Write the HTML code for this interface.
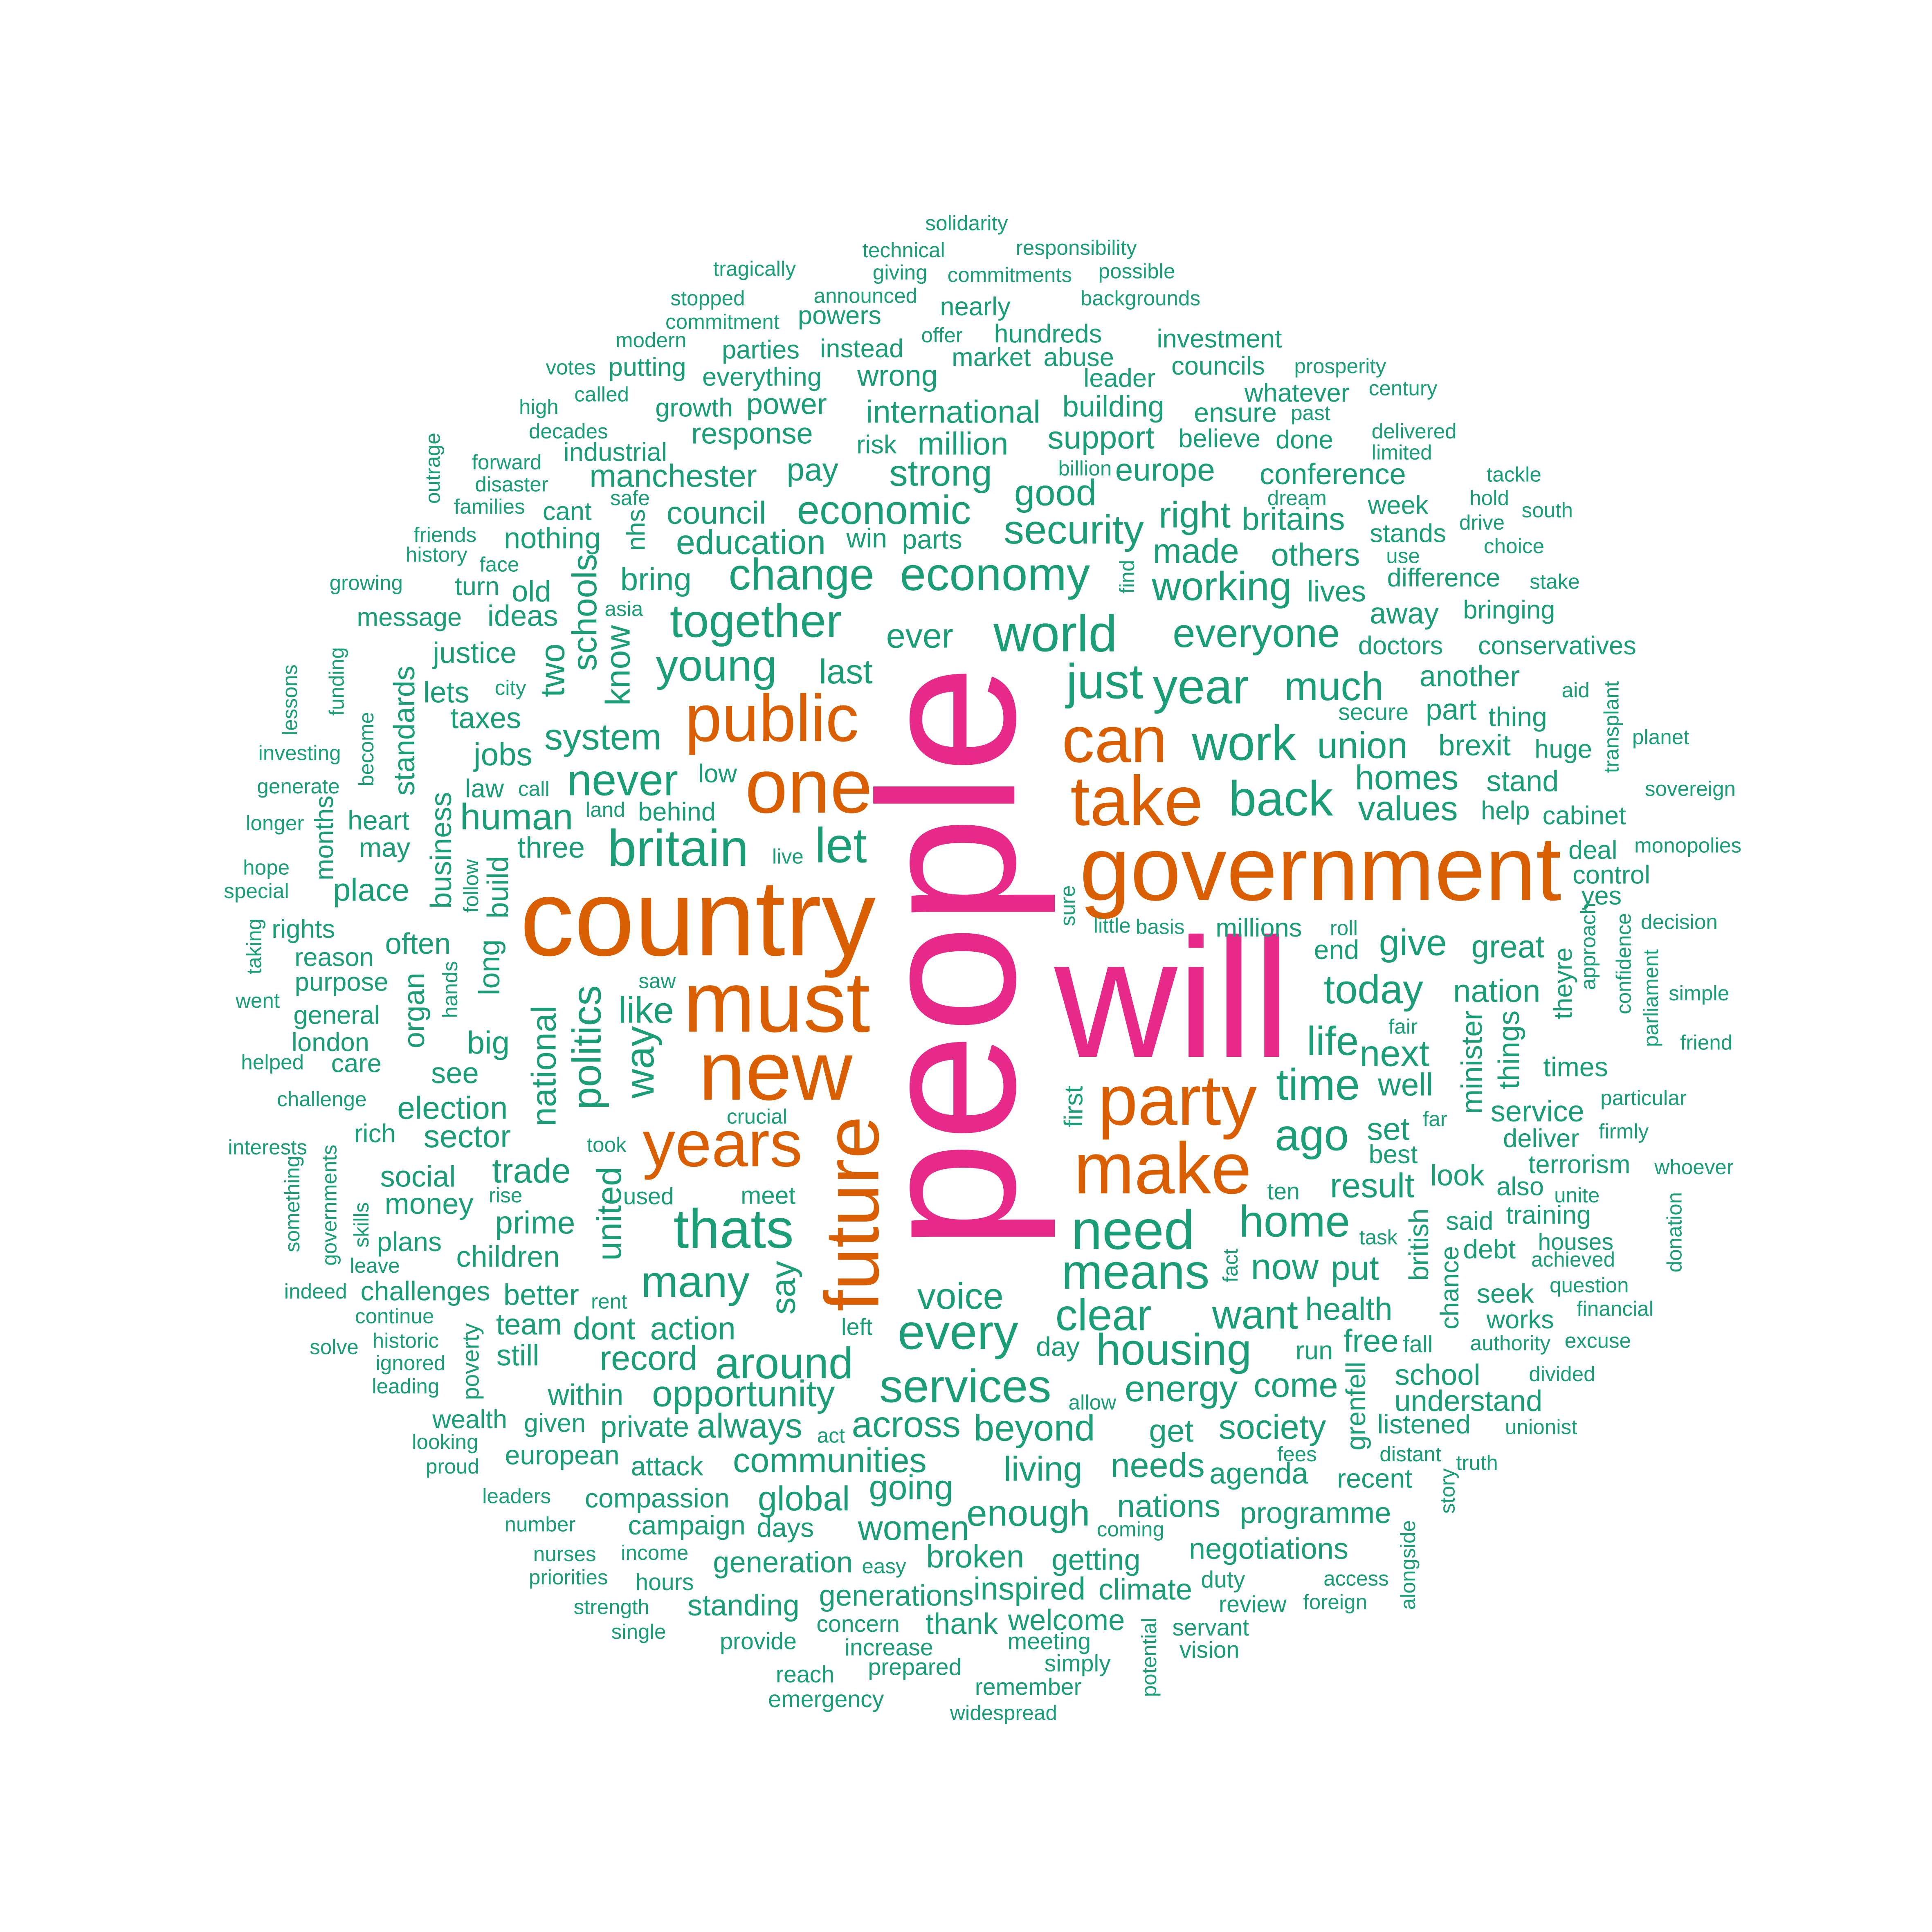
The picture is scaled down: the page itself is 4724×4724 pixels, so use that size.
<!DOCTYPE html>
<html>
<head>
<meta charset="utf-8">
<style>
html,body{margin:0;padding:0;background:#fff;}
svg{display:block;}
text{font-family:"Liberation Sans",Arial,sans-serif;}
</style>
</head>
<body>
<svg id="cloud" width="4724" height="4724" viewBox="0 0 1560 1560" xmlns="http://www.w3.org/2000/svg">
<rect width="1560" height="1560" fill="#fff"/>
<g id="words" transform="matrix(0.9955,0,0,0.995,1,0)"></g>
</svg>
<script>
const cloud = [
["people",767,777,158,-90],["will",950,810,138,0],["country",565,745,88,0],["government",1070,705,74,0],
["must",629,813,70,0],["new",628,869,68,0],["one",655,638,62,0],["public",625,583,54,0],["take",921,650,57,0],
["can",903,600,53,0],["party",954,893,58,0],["make",942,948,59,0],["years",585,928,53,0],["future",690,985,62,-90],
["solidarity",783,181,17,0],["technical",732,203,17,0],["responsibility",872,201,17,0],["tragically",611,218,17,0],
["giving",729,221,17,0],["commitments",818,223,17,0],["possible",921,220,17,0],["stopped",573,242,17,0],
["announced",701,240,17,0],["nearly",790,249,21,0],["backgrounds",924,242,17,0],["commitment",585,261,17,0],
["powers",680,256,21,0],["offer",763,272,17,0],["hundreds",849,271,21,0],["modern",527,276,17,0],
["investment",988,275,21,0],["parties",616,284,21,0],["instead",698,283,21,0],["market",803,290,21,0],
["abuse",874,290,21,0],["votes",462,298,17,0],["putting",524,298,21,0],["everything",617,306,21,0],
["wrong",727,305,24,0],["leader",907,307,21,0],["councils",987,297,21,0],["prosperity",1086,297,17,0],
["century",1137,315,17,0],["called",487,320,17,0],["high",436,330,17,0],["growth",562,331,21,0],
["power",637,328,24,0],["international",772,334,26,0],["building",902,330,24,0],["ensure",1001,335,22,0],
["whatever",1051,319,21,0],["past",1062,335,17,0],["decades",460,350,17,0],["response",609,352,24,0],
["risk",710,361,21,0],["million",780,360,26,0],["support",892,355,26,0],["believe",988,356,21,0],
["done",1057,357,21,0],["delivered",1146,350,17,0],["outrage",350,380,17,-90],["forward",410,375,17,0],
["industrial",498,367,21,0],["billion",879,380,17,0],["limited",1136,367,17,0],["strong",762,384,30,0],
["europe",944,381,26,0],["conference",1080,385,24,0],["tackle",1227,385,17,0],["disaster",414,393,17,0],
["manchester",545,386,26,0],["pay",658,381,26,0],["safe",510,404,17,0],["families",396,411,17,0],
["good",855,400,30,0],["dream",1051,404,17,0],["hold",1207,404,17,0],["cant",459,415,21,0],
["council",580,416,26,0],["economic",716,414,33,0],["security",870,430,33,0],["right",968,418,30,0],
["britains",1048,421,26,0],["week",1133,410,21,0],["south",1254,414,17,0],["nhs",515,430,21,-90],
["friends",360,434,17,0],["nothing",447,437,24,0],["education",608,440,28,0],["win",702,437,22,0],
["parts",755,438,22,0],["made",969,447,28,0],["others",1066,450,26,0],["stands",1141,433,21,0],
["drive",1201,424,17,0],["choice",1227,443,17,0],["history",353,450,17,0],["face",404,458,17,0],
["change",649,466,36,0],["economy",806,466,38,0],["find",913,468,17,-90],["use",1137,451,17,0],
["turn",386,476,21,0],["old",430,480,24,0],["bring",531,470,26,0],["schools",473,497,28,-90],
["working",990,476,33,0],["lives",1083,480,24,0],["difference",1170,469,21,0],["stake",1260,472,17,0],
["growing",296,473,17,0],["message",331,501,21,0],["ideas",423,500,24,0],["asia",505,494,17,0],
["together",612,504,38,0],["away",1138,498,24,0],["bringing",1223,495,21,0],["know",500,540,28,-90],
["world",855,514,42,0],["ever",745,516,28,0],["everyone",1018,514,33,0],["doctors",1135,524,21,0],
["conservatives",1262,524,21,0],["justice",384,530,24,0],["two",447,544,28,-90],["young",580,540,36,0],
["lessons",234,568,17,-90],["funding",272,553,17,-90],["city",413,558,17,0],["last",685,545,28,0],
["just",895,553,40,0],["year",973,557,40,0],["much",1081,557,33,0],["another",1191,549,24,0],
["lets",361,562,24,0],["secure",1113,578,19,0],["part",1176,576,24,0],["thing",1230,582,22,0],
["aid",1277,560,17,0],["taxes",393,583,24,0],["become",296,608,17,-90],["standards",327,593,24,-90],
["system",488,598,30,0],["work",1008,603,40,0],["union",1104,605,30,0],["brexit",1195,605,24,0],
["huge",1267,608,21,0],["transplant",1306,590,17,-90],["planet",1346,598,17,0],["investing",242,611,17,0],
["jobs",407,612,26,0],["never",504,633,36,0],["homes",1140,631,28,0],["stand",1234,634,24,0],
["sovereign",1370,640,17,0],["generate",241,638,17,0],["law",392,640,21,0],["call",432,640,17,0],
["low",581,628,21,0],["back",1038,648,40,0],["help",1220,658,21,0],["cabinet",1284,662,21,0],
["land",490,657,17,0],["behind",548,659,21,0],["values",1141,656,28,0],["longer",222,668,17,0],
["heart",306,666,22,0],["months",262,680,21,-90],["human",418,663,30,0],["britain",549,688,42,0],
["let",681,686,40,0],["business",357,690,24,-90],["follow",381,719,17,-90],["three",446,688,24,0],
["live",638,695,17,0],["deal",1291,690,21,0],["monopolies",1368,686,17,0],["may",311,688,22,0],
["hope",215,704,17,0],["build",403,720,24,-90],["control",1306,710,21,0],["special",207,723,17,0],
["place",300,722,26,0],["sure",865,735,17,-90],["yes",1298,727,21,0],["rights",245,754,21,0],
["little",901,751,17,0],["basis",940,752,17,0],["millions",1020,753,21,0],["roll",1089,753,17,0],
["decision",1361,748,17,0],["taking",205,768,17,-90],["often",338,766,24,0],["end",1083,771,22,0],
["give",1145,765,30,0],["great",1222,768,26,0],["approach",1287,768,17,-90],["confidence",1316,782,17,-90],
["reason",270,777,21,0],["long",396,785,24,-90],["organ",335,820,24,-90],["today",1113,803,33,0],
["nation",1213,804,26,0],["theyre",1267,798,21,-90],["parliament",1338,810,17,-90],["purpose",276,797,21,0],
["saw",532,796,17,0],["went",208,812,17,0],["simple",1377,806,17,0],["hands",364,803,17,-90],
["politics",475,850,33,-90],["like",523,820,30,0],["general",272,824,21,0],["london",267,846,21,0],
["big",395,846,26,0],["life",1080,845,33,0],["minister",1193,862,24,-90],["things",1223,852,24,-90],
["friend",1383,846,17,0],["way",518,862,33,-90],["fair",1137,833,17,0],["next",1130,855,30,0],
["helped",220,862,17,0],["care",288,863,21,0],["see",368,871,24,0],["times",1277,866,22,0],
["time",1068,880,36,0],["national",440,865,28,-90],["well",1139,880,26,0],["first",870,898,21,-90],
["far",1163,908,17,0],["challenge",260,892,17,0],["particular",1332,891,17,0],["election",366,899,26,0],
["crucial",613,906,17,0],["service",1246,902,24,0],["firmly",1316,918,17,0],["rich",303,920,21,0],
["sector",378,922,26,0],["set",1125,916,26,0],["deliver",1249,924,21,0],["took",491,929,17,0],
["ago",1063,921,36,0],["interests",216,931,17,0],["best",1129,937,21,0],["something",236,977,17,-90],
["governments",266,978,17,-90],["trade",430,950,28,0],["social",338,955,24,0],["terrorism",1280,945,21,0],
["whoever",1373,947,17,0],["united",493,985,28,-90],["also",1232,963,21,0],["ten",1040,967,19,0],
["result",1112,962,28,0],["look",1181,954,24,0],["unite",1278,970,17,0],["money",347,977,24,0],
["rise",409,970,17,0],["used",525,971,19,0],["meet",622,970,20,0],["thats",594,997,45,0],
["need",918,998,45,0],["home",1049,991,36,0],["say",634,1045,28,-90],["skills",292,994,17,-90],
["training",1255,986,21,0],["donation",1357,1000,17,-90],["prime",433,992,26,0],["british",1150,1010,22,-90],
["said",1191,991,21,0],["task",1117,1004,17,0],["houses",1277,1008,19,0],["plans",331,1008,22,0],
["put",1098,1029,28,0],["now",1041,1028,30,0],["fact",997,1027,17,-90],["means",920,1032,40,0],
["leave",303,1027,17,0],["achieved",1275,1022,17,0],["children",411,1020,24,0],["debt",1207,1014,22,0],
["many",563,1040,36,0],["voice",778,1052,30,0],["chance",1175,1045,21,-90],["question",1288,1043,17,0],
["indeed",255,1048,17,0],["challenges",344,1048,22,0],["better",438,1051,24,0],["rent",493,1056,17,0],
["seek",1220,1050,22,0],["health",1093,1062,26,0],["want",1017,1067,33,0],["clear",894,1067,36,0],
["financial",1309,1062,17,0],["continue",319,1068,17,0],["team",428,1075,24,0],["dont",489,1078,26,0],
["action",561,1078,26,0],["left",694,1077,19,0],["every",776,1081,40,0],["works",1232,1071,21,0],
["historic",328,1088,17,0],["poverty",381,1105,19,-90],["free",1111,1088,26,0],["fall",1149,1091,19,0],
["day",857,1093,22,0],["housing",951,1095,36,0],["authority",1224,1090,17,0],["excuse",1295,1088,17,0],
["solve",270,1093,17,0],["ignored",332,1106,17,0],["still",419,1100,24,0],["record",525,1102,28,0],
["around",635,1106,36,0],["run",1065,1096,21,0],["grenfell",1099,1141,22,-90],["school",1165,1116,24,0],
["divided",1266,1115,17,0],["leading",328,1125,17,0],["within",474,1132,24,0],["opportunity",602,1131,30,0],
["services",782,1125,38,0],["energy",957,1127,30,0],["come",1050,1124,28,0],["allow",885,1138,17,0],
["understand",1190,1137,24,0],["wealth",380,1152,21,0],["given",449,1155,21,0],["private",522,1158,24,0],
["always",607,1157,28,0],["across",734,1156,30,0],["beyond",838,1159,30,0],["get",949,1161,26,0],
["society",1031,1158,28,0],["listened",1154,1156,22,0],["unionist",1249,1158,17,0],["looking",360,1170,17,0],
["act",673,1165,17,0],["european",455,1181,22,0],["proud",366,1190,17,0],["attack",540,1190,22,0],
["communities",672,1185,28,0],["living",845,1192,28,0],["needs",938,1189,28,0],["agenda",1020,1196,24,0],
["fees",1051,1180,17,0],["distant",1143,1180,17,0],["truth",1197,1187,17,0],["recent",1114,1200,22,0],
["story",1173,1210,17,-90],["going",738,1207,28,0],["leaders",418,1214,17,0],["compassion",532,1216,22,0],
["global",651,1216,28,0],["nations",947,1222,26,0],["enough",833,1228,30,0],["programme",1066,1228,24,0],
["number",437,1237,17,0],["campaign",556,1238,22,0],["days",636,1240,22,0],["women",740,1240,28,0],
["coming",916,1241,17,0],["negotiations",1028,1257,24,0],["alongside",1141,1270,17,-90],["nurses",457,1261,17,0],
["income",530,1260,17,0],["generation",634,1268,24,0],["easy",716,1271,17,0],["broken",790,1263,26,0],
["getting",888,1266,24,0],["priorities",460,1280,17,0],["hours",538,1284,19,0],["inspired",834,1289,26,0],
["climate",928,1290,24,0],["duty",991,1282,19,0],["access",1099,1281,17,0],["generations",726,1295,24,0],
["foreign",1082,1300,17,0],["standing",602,1303,24,0],["strength",495,1304,17,0],["review",1015,1302,19,0],
["potential",931,1345,17,-90],["thank",779,1318,24,0],["welcome",864,1315,24,0],["single",517,1324,17,0],
["servant",981,1321,19,0],["concern",695,1318,19,0],["provide",614,1332,19,0],["increase",720,1337,19,0],
["meeting",850,1332,19,0],["vision",980,1339,19,0],["simply",873,1350,19,0],["prepared",741,1353,19,0],
["reach",652,1359,19,0],["remember",833,1369,19,0],["emergency",669,1379,19,0],["widespread",813,1390,17,0]
];
const words = cloud.map(r => r[0]);
const sizes = cloud.map(r => r[3]);
const pinkWords = ["people","will"];
const orangeWords = ["country","government","must","new","one","public","take","can","party","make","years","future"];

const grp = document.getElementById('words');
const NS = 'http://www.w3.org/2000/svg';
cloud.forEach((r, i) => {
  const w = words[i];
  const t = document.createElementNS(NS, 'text');
  t.setAttribute('x', r[1]);
  t.setAttribute('y', r[2]);
  t.setAttribute('font-size', sizes[i]);
  t.setAttribute('text-anchor', 'middle');
  t.setAttribute('dominant-baseline', 'central');
  let col = '#1b9e77';
  if (pinkWords.includes(w)) col = '#e7298a';
  else if (orangeWords.includes(w)) col = '#d95f02';
  t.setAttribute('fill', col);
  if (r[4]) t.setAttribute('transform', 'rotate(' + r[4] + ' ' + r[1] + ' ' + r[2] + ')');
  t.textContent = w;
  
  
  grp.appendChild(t);
});
</script>
</body>
</html>
